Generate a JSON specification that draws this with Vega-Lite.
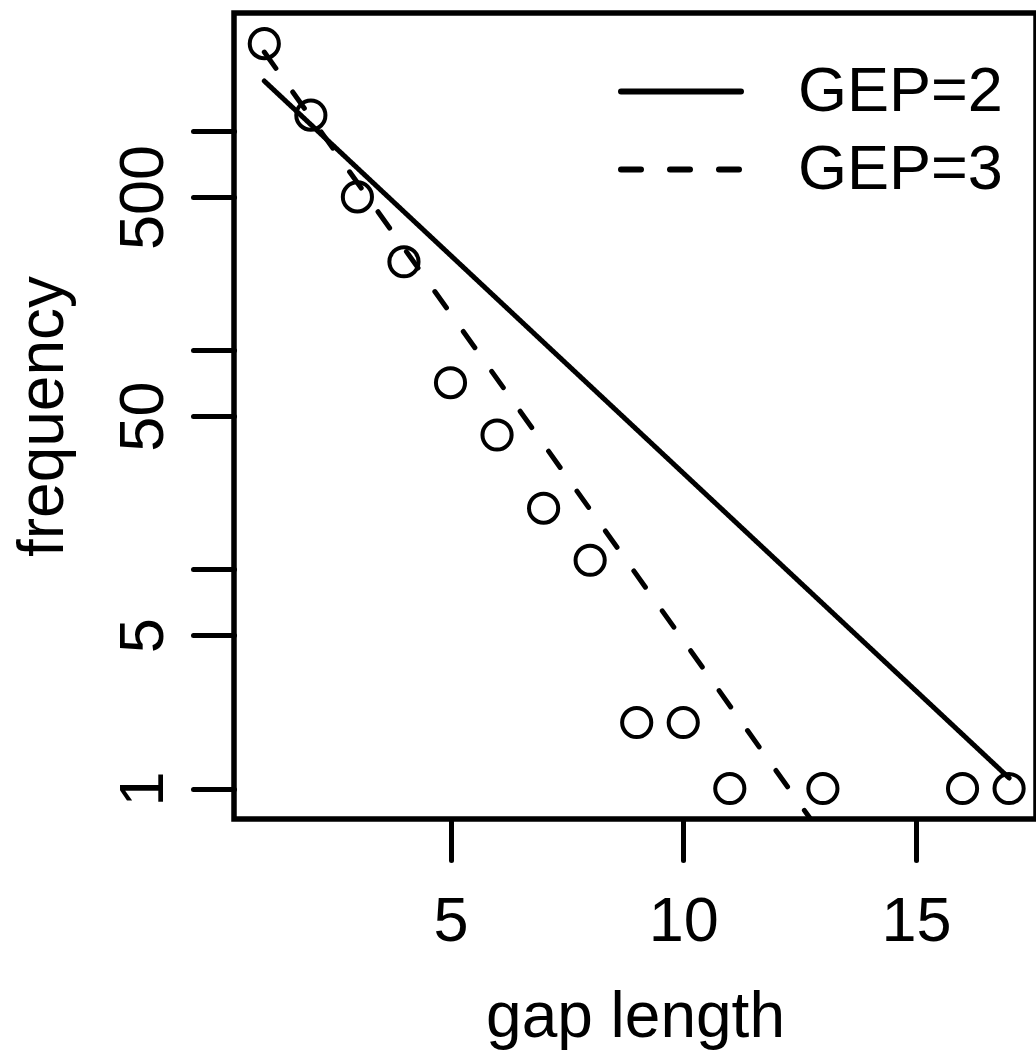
{
  "$schema": "https://vega.github.io/schema/vega-lite/v6.json",
  "autosize": {"type": "none"},
  "padding": {"left": 234, "top": 13, "right": 0, "bottom": 233},
  "width": 802,
  "height": 806,
  "background": "white",
  "config": {
    "view": {"stroke": "black", "strokeWidth": 5.5},
    "font": "Liberation Sans",
    "axis": {
      "domain": false,
      "grid": false,
      "tickColor": "black",
      "tickWidth": 5,
      "tickSize": 41,
      "tickCap": "round",
      "labelFont": "Liberation Sans",
      "labelFontSize": 63,
      "labelColor": "black",
      "labelOverlap": false,
      "labelFlush": false,
      "titleFont": "Liberation Sans",
      "titleFontSize": 64,
      "titleFontWeight": "normal",
      "titleColor": "black"
    }
  },
  "datasets": {
    "obs": [
      {"gap": 1, "freq": 2500},
      {"gap": 2, "freq": 1180},
      {"gap": 3, "freq": 500},
      {"gap": 4, "freq": 253},
      {"gap": 5, "freq": 71},
      {"gap": 6, "freq": 41},
      {"gap": 7, "freq": 19},
      {"gap": 8, "freq": 11},
      {"gap": 9, "freq": 2},
      {"gap": 10, "freq": 2},
      {"gap": 11, "freq": 1},
      {"gap": 13, "freq": 1},
      {"gap": 16, "freq": 1},
      {"gap": 17, "freq": 1}
    ],
    "fits": [
      {"gap": 1, "freq": 1689, "model": "GEP=2"},
      {"gap": 17, "freq": 1.117, "model": "GEP=2"},
      {"gap": 1, "freq": 2290, "model": "GEP=3"},
      {"gap": 12.75, "freq": 0.718, "model": "GEP=3"}
    ]
  },
  "layer": [
    {
      "data": {"name": "fits"},
      "mark": {"type": "line", "clip": true, "color": "black", "strokeWidth": 5, "strokeCap": "round"},
      "encoding": {
        "x": {
          "field": "gap", "type": "quantitative",
          "scale": {"domain": [0.349, 17.578], "nice": false, "zero": false},
          "axis": {
            "values": [5, 10, 15],
            "title": "gap length",
            "labelBaseline": "alphabetic",
            "labelPadding": 80,
            "titleX": 401,
            "titleY": 217,
            "titleBaseline": "alphabetic",
            "titleAlign": "center"
          }
        },
        "y": {
          "field": "freq", "type": "quantitative",
          "scale": {"type": "log", "domain": [0.7261, 3451], "nice": false, "zero": false},
          "axis": {
            "values": [1, 5, 10, 50, 100, 500, 1000],
            "labelExpr": "indexof([1, 5, 50, 500], datum.value) >= 0 ? format(datum.value, 'd') : ''",
            "title": "frequency",
            "labelAngle": 270,
            "labelAlign": "center",
            "labelBaseline": "alphabetic",
            "labelPadding": 31,
            "titleAngle": 270,
            "titleX": -172,
            "titleY": 403,
            "titleBaseline": "alphabetic",
            "titleAlign": "center"
          }
        },
        "strokeDash": {
          "field": "model", "type": "nominal",
          "scale": {"domain": ["GEP=2", "GEP=3"], "range": [[1, 0], [20, 29]]},
          "legend": {
            "title": null,
            "orient": "none",
            "legendX": 384,
            "legendY": 47,
            "padding": 0,
            "symbolType": "stroke",
            "symbolSize": 14400,
            "symbolStrokeWidth": 6,
            "symbolStrokeColor": "black",
            "labelFont": "Liberation Sans",
            "labelFontSize": 63,
            "labelColor": "black",
            "labelLimit": 0,
            "labelOffset": 54,
            "clipHeight": 63,
            "rowPadding": 14,
            "encode": {"symbols": {"update": {"strokeCap": {"value": "round"}}}}
          }
        }
      }
    },
    {
      "data": {"name": "obs"},
      "mark": {"type": "point", "shape": "circle", "filled": false, "color": "black", "strokeWidth": 4, "size": 850, "opacity": 1},
      "encoding": {
        "x": {"field": "gap", "type": "quantitative"},
        "y": {"field": "freq", "type": "quantitative"}
      }
    }
  ]
}
